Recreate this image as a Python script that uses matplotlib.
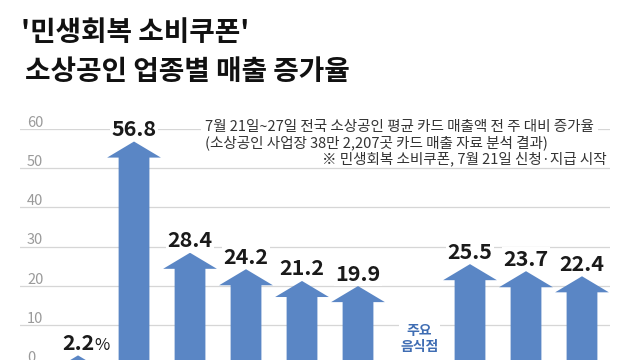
import matplotlib
matplotlib.use("Agg")
import matplotlib.pyplot as plt

plt.rcParams['font.family'] = ['Noto Sans CJK KR', 'DejaVu Sans']

# data
values = [2.2, 56.8, 28.4, 24.2, 21.2, 19.9, 25.5, 23.7, 22.4]
value_labels = ['2.2', '56.8', '28.4', '24.2', '21.2', '19.9', '25.5', '23.7', '22.4']
yticks = [0, 10, 20, 30, 40, 50, 60]
group_label = '주요\n음식점'

title1 = "'민생회복 소비쿠폰'"
title2 = '소상공인 업종별 매출 증가율'
sub1 = '7월 21일~27일 전국 소상공인 평균 카드 매출액 전 주 대비 증가율'
sub2 = '(소상공인 사업장 38만 2,207곳 카드 매출 자료 분석 결과)'
note = '※ 민생회복 소비쿠폰, 7월 21일 신청·지급 시작'

blue = '#5a86c5'

# first six arrows, a gap for the group label, then three more
slots = list(range(6)) + list(range(7, 10))
group_slot = 6

fig = plt.figure(figsize=(6.4, 3.6), dpi=100)
ax = fig.add_axes([20/640, -4/360, 590/640, 235/360])
ax.set_xlim(-1.036, 9.5)
ax.set_ylim(0, 60)

ax.set_yticks(yticks)
ax.set_xticks([])
ax.tick_params(left=False, labelleft=False)
ax.yaxis.grid(True, color='#d6d6d6', lw=0.9)
ax.set_axisbelow(True)
for s in ax.spines.values():
    s.set_visible(False)

for t in yticks:
    ax.annotate(str(t), xy=(0.012, t), xycoords=ax.get_yaxis_transform(),
                xytext=(0, 1.5), textcoords='offset points',
                ha='left', va='baseline', fontsize=10.5, color='#9a9a9a',
                fontweight='light', annotation_clip=False)

for x, v, lab in zip(slots, values, value_labels):
    ax.arrow(x, -3, 0, v + 3, width=0.55, head_width=0.96, head_length=4.1,
             length_includes_head=True, color=blue, lw=0, zorder=2)
    t = ax.annotate(lab, xy=(x, v), xytext=(0, 4), textcoords='offset points',
                    ha='center', va='baseline', fontsize=15.5, fontweight='bold',
                    color='#1a1a1a', zorder=4, annotation_clip=False,
                    bbox=dict(fc='white', ec='none', pad=1))
    if lab == '2.2':
        ax.annotate('%', xy=(1, 0), xycoords=t, xytext=(0.5, 0),
                    textcoords='offset points', ha='left', va='bottom',
                    fontsize=12, color='#1a1a1a', zorder=4)

ax.text(group_slot + 0.1, 6.3, group_label, ha='center', va='center',
        fontsize=10, fontweight='bold', color='#3f6db3', linespacing=1.2,
        zorder=4, bbox=dict(fc='white', ec='none', pad=1))

fig.text(21/640, 1 - 33/360, title1, ha='left', va='center',
         fontsize=20, fontweight='bold', color='#111111')
fig.text(25/640, 1 - 72/360, title2, ha='left', va='center',
         fontsize=20, fontweight='bold', color='#111111')

fig.text(205/640, 1 - 127/360, sub1, ha='left', va='center', fontsize=10.5,
         color='#333333', bbox=dict(fc='white', ec='none', pad=3))
fig.text(205/640, 1 - 143/360, sub2, ha='left', va='center', fontsize=10.5,
         color='#333333')
fig.text(607/640, 1 - 159/360, note, ha='right', va='center', fontsize=10.5,
         color='#333333')

fig.savefig('out.png', dpi=100)
